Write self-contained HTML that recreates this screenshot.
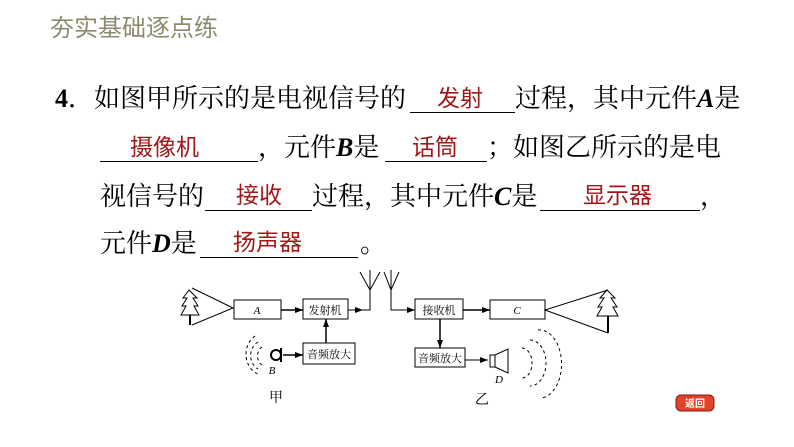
<!DOCTYPE html>
<html><head><meta charset="utf-8"><style>
body{margin:0;width:794px;height:447px;background:#fff;position:relative;overflow:hidden;font-family:"Liberation Serif","Noto Serif CJK SC",serif}
.t{position:absolute;font-size:26px;color:#000;white-space:nowrap;line-height:30px}
.r{position:absolute;font-family:"Liberation Sans","Noto Sans CJK SC",sans-serif;font-size:23px;color:#a01818;white-space:nowrap;line-height:28px}
.u{position:absolute;border-bottom:1.5px solid #000;height:0}
i{font-weight:bold}
</style></head><body>
<div style="position:absolute;left:50px;top:8px;font-family:'Liberation Sans','Noto Sans CJK SC',sans-serif;font-size:24px;color:#8c8a6c">夯实基础逐点练</div>

<div class="t" style="left:55px;top:84px"><b>4</b>．如图甲所示的是电视信号的</div>
<div class="u" style="left:410px;width:105px;top:112px"></div>
<div class="r" style="left:437px;top:84px">发射</div>
<div class="t" style="left:515px;top:84px">过程，其中元件<i>A</i>是</div>

<div class="u" style="left:100px;width:158px;top:161px"></div>
<div class="r" style="left:130px;top:133px">摄像机</div>
<div class="t" style="left:258px;top:133px">，元件<i>B</i>是</div>
<div class="u" style="left:385px;width:102px;top:161px"></div>
<div class="r" style="left:412px;top:133px">话筒</div>
<div class="t" style="left:487px;top:133px">；如图乙所示的是电</div>

<div class="t" style="left:100px;top:182px">视信号的</div>
<div class="u" style="left:205px;width:107px;top:210px"></div>
<div class="r" style="left:236px;top:181px">接收</div>
<div class="t" style="left:312px;top:182px">过程，其中元件<i>C</i>是</div>
<div class="u" style="left:540px;width:160px;top:210px"></div>
<div class="r" style="left:583px;top:181px">显示器</div>
<div class="t" style="left:700px;top:182px">，</div>

<div class="t" style="left:100px;top:229px">元件<i>D</i>是</div>
<div class="u" style="left:200px;width:158px;top:257px"></div>
<div class="r" style="left:233px;top:228px">扬声器</div>
<div class="t" style="left:360px;top:229px">。</div>

<svg width="794" height="447" style="position:absolute;left:0;top:0" font-family="Liberation Serif,Noto Serif CJK SC,serif">
<defs><marker id="a" markerWidth="8" markerHeight="6" refX="8" refY="3" orient="auto" markerUnits="userSpaceOnUse"><path d="M0,0L8,3L0,6z" fill="#000"/></marker></defs>
<g stroke="#000" stroke-width="1" fill="#fff">
<polyline points="192,288 233,308 192,325" fill="none"/>
<path d="M189,290 L183,298 L187,298 L182,306 L186,306 L181,315 L199,315 L194,306 L198,306 L193,298 L197,298 Z"/>
<line x1="190" y1="315" x2="190" y2="325" stroke-width="2"/>
<rect x="234" y="300" width="47" height="19"/>
<rect x="303" y="299" width="45" height="20"/>
<rect x="415" y="299" width="48" height="20"/>
<rect x="490" y="300" width="55" height="19"/>
<rect x="303" y="343" width="52" height="21"/>
<rect x="415" y="348" width="50" height="19"/>
<polyline points="608,290 545,310 608,333" fill="none"/>
<path d="M607,290 L600,298 L604,298 L598,307 L602,307 L597,316 L618,316 L613,307 L617,307 L611,298 L615,298 Z"/>
<line x1="608" y1="316" x2="608" y2="333" stroke-width="2"/>
<line x1="281" y1="310" x2="303" y2="310" stroke-width="1.5" marker-end="url(#a)"/>
<polyline points="348,310 370,310 370,290" fill="none" marker-start=""/>
<line x1="348" y1="310" x2="363" y2="310" marker-end="url(#a)"/>
<polyline points="360,272 370,290 380,272" fill="none"/><line x1="370" y1="270" x2="370" y2="290"/>
<polyline points="384,272 391,290 399,272" fill="none"/><line x1="391" y1="270" x2="391" y2="290"/>
<polyline points="391,290 391,310 415,310" fill="none" marker-end="url(#a)"/>
<line x1="463" y1="310" x2="490" y2="310" stroke-width="1.5" marker-end="url(#a)"/>
<line x1="440" y1="319" x2="440" y2="348" stroke-width="1.5" marker-end="url(#a)"/>
<line x1="465" y1="360" x2="488" y2="360" marker-end="url(#a)"/>
<rect x="490" y="355" width="5" height="12"/>
<polygon points="495,355 508,349 508,373 495,367"/>
<line x1="326" y1="343" x2="326" y2="319" stroke-width="1.5" marker-end="url(#a)"/>
<circle cx="276" cy="355" r="5" stroke-width="2"/>
<line x1="281" y1="348" x2="281" y2="362" stroke-width="2"/>
<line x1="283" y1="355" x2="303" y2="355" stroke-width="1.5" marker-end="url(#a)"/>
<g fill="none" stroke-dasharray="3,3">
<path d="M262,347 A8,10 0 0 0 262,365"/><path d="M258,342 A13,15 0 0 0 258,369"/><path d="M255,336 A18,21 0 0 0 258,374"/>
<path d="M522,348 A10,15 0 0 1 522,378"/><path d="M530,340 A16,23 0 0 1 530,386"/><path d="M538,330 A22,34 0 0 1 541,398"/>
</g>
</g>
<g font-size="11" text-anchor="middle">
<text x="257" y="314" font-style="italic">A</text>
<text x="325" y="314">发射机</text>
<text x="439" y="314">接收机</text>
<text x="517" y="314" font-style="italic">C</text>
<text x="329" y="358">音频放大</text>
<text x="440" y="362">音频放大</text>
<text x="272" y="374" font-style="italic">B</text>
<text x="499" y="383" font-style="italic">D</text>
<text x="276" y="402" font-size="14">甲</text>
<text x="482" y="404" font-size="14">乙</text>
</g>
<rect x="676" y="395" width="38" height="16" rx="5" fill="#e0442a" stroke="#7a1a10"/>
<text x="695" y="407" font-size="10" fill="#fff" text-anchor="middle" font-family="Noto Sans CJK SC,sans-serif" font-weight="bold">返回</text>
</svg>
</body></html>
